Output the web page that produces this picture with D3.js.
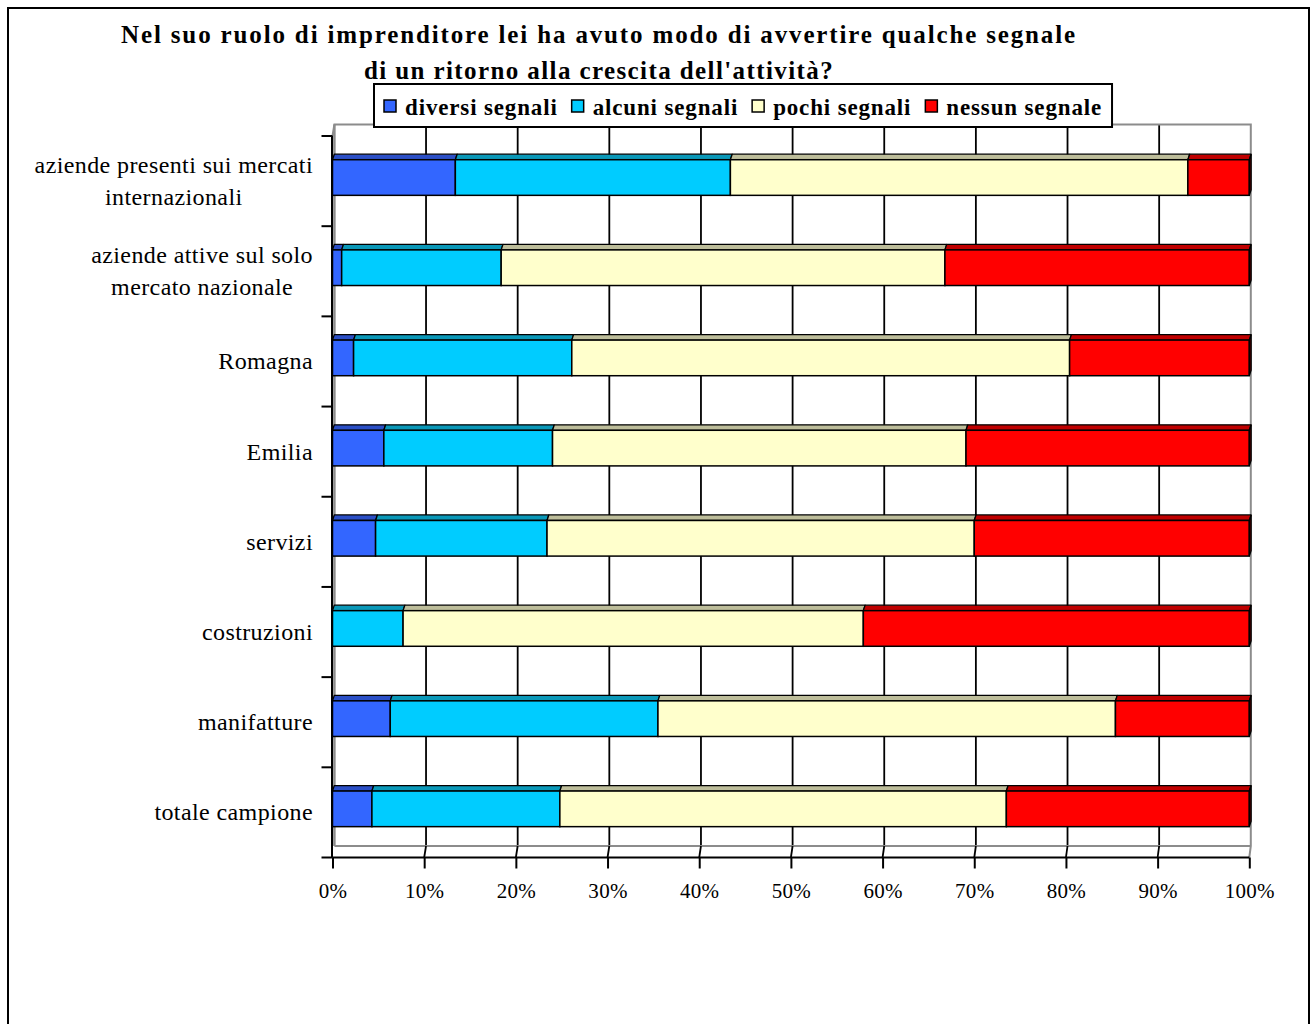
<!DOCTYPE html>
<html><head><meta charset="utf-8">
<script src="https://cdn.jsdelivr.net/npm/d3@7"></script>
<style>body{margin:0;background:#fff} svg{display:block}</style>
</head><body>
<svg id="c" width="1311" height="1024"></svg>
<script>
// ---- data ----
const titleLines = ["Nel suo ruolo di imprenditore lei ha avuto modo di avvertire qualche segnale",
                    "di un ritorno alla crescita dell'attività?"];
const categories = ["aziende presenti sui mercati\ninternazionali",
                    "aziende attive sul solo\nmercato nazionale",
                    "Romagna", "Emilia", "servizi", "costruzioni", "manifatture", "totale campione"];
const seriesNames = ["diversi segnali", "alcuni segnali", "pochi segnali", "nessun segnale"];
const diversi  = [13.4, 1.0, 2.3, 5.6, 4.7, 0.0, 6.3, 4.3];
const alcuni   = [30.0, 17.4, 23.8, 18.4, 18.7, 7.7, 29.2, 20.5];
const pochi    = [49.9, 48.4, 54.3, 45.1, 46.6, 50.2, 49.9, 48.7];
const nessuno  = [6.7, 33.2, 19.6, 30.9, 30.0, 42.1, 14.6, 26.5];
const tickValues = [0, 10, 20, 30, 40, 50, 60, 70, 80, 90, 100];
const tickLabels = ["0%", "10%", "20%", "30%", "40%", "50%", "60%", "70%", "80%", "90%", "100%"];

// ---- styles ----
const colors = ["#3366FF", "#00CCFF", "#FFFFCC", "#FF0000"];
const topColors = ["#2b4fc6", "#0a98b8", "#bdbd9a", "#c00000"];
const serif = "'Liberation Serif','Times New Roman',serif";

const rows = categories.map((c, i) => ({cat: c, s0: diversi[i], s1: alcuni[i], s2: pochi[i], s3: nessuno[i]}));
const stack = d3.stack().keys(["s0", "s1", "s2", "s3"])(rows);

const svg = d3.select("#c");

// geometry
const xFront = d3.scaleLinear().domain([0, 100]).range([332.5, 1249.3]);
const xBack  = d3.scaleLinear().domain([0, 100]).range([334.4, 1250.8]);
const y = d3.scaleBand().domain(categories).range([136, 857.5]).paddingInner(0).paddingOuter(0);
const wallDy = -11.5;
const bw = y.bandwidth();
const barTop = bw * 0.263, barH = bw * 0.395;
const bdx = 1.8, bdy = -5.5;
const yFloorFront = y.range()[1], yFloorBack = y.range()[1] + wallDy, yWallTop = y.range()[0] + wallDy;

// outer border
svg.append("rect").attr("x", 8).attr("y", 8).attr("width", 1301).attr("height", 1030)
  .attr("fill", "#fff").attr("stroke", "#000").attr("stroke-width", 2);

// title
const titleSpacing = [1.85, 1.4];
titleLines.forEach((t, i) => svg.append("text").attr("font-family", serif).attr("font-weight", "bold")
  .attr("font-size", 25).attr("letter-spacing", titleSpacing[i]).attr("text-anchor", "middle")
  .attr("x", 599).attr("y", 43 + i * 36).text(t));

// back wall: gridlines
const grid = svg.append("g");
grid.selectAll("line.g").data(tickValues.slice(1, -1)).join("line")
  .attr("x1", d => xBack(d)).attr("x2", d => xBack(d))
  .attr("y1", yWallTop).attr("y2", yFloorBack)
  .attr("stroke", "#000").attr("stroke-width", 1.8);
// wall outline (gray)
grid.append("path")
  .attr("d", `M${xFront(0)},${y.range()[0]} L${xBack(0)},${yWallTop} L${xBack(100)},${yWallTop} L${xBack(100)},${yFloorBack} L${xFront(100)},${yFloorFront}`)
  .attr("fill", "none").attr("stroke", "#8c8c8c").attr("stroke-width", 2);
grid.append("line").attr("x1", xBack(0)).attr("x2", xBack(0)).attr("y1", yWallTop).attr("y2", yFloorBack)
  .attr("stroke", "#8c8c8c").attr("stroke-width", 2.5);
grid.append("line").attr("x1", xBack(0)).attr("x2", xBack(100)).attr("y1", yFloorBack).attr("y2", yFloorBack)
  .attr("stroke", "#8c8c8c").attr("stroke-width", 2);
// floor slants
grid.selectAll("line.s").data(tickValues.slice(1, -1)).join("line")
  .attr("x1", d => xBack(d)).attr("x2", d => xFront(d))
  .attr("y1", yFloorBack).attr("y2", yFloorFront)
  .attr("stroke", "#000").attr("stroke-width", 1.8);

// x axis (front)
const xAxis = svg.append("g").attr("transform", `translate(0,${yFloorFront})`)
  .call(d3.axisBottom(xFront).tickValues(tickValues).tickFormat((d, i) => tickLabels[i]).tickSize(11).tickPadding(17));
xAxis.select(".domain").attr("stroke", "#000").attr("stroke-width", 2).attr("d", `M${xFront(0)},0H${xFront(100)}`);
xAxis.selectAll(".tick line").attr("stroke", "#000").attr("stroke-width", 2);
xAxis.selectAll(".tick text").attr("font-family", serif).attr("font-size", 21).attr("fill", "#000")
  .attr("letter-spacing", 0.3).attr("dy", "0.6em");

// y axis
const yAxisG = svg.append("g");
yAxisG.append("line").attr("x1", xFront(0) - 0.5).attr("x2", xFront(0) - 0.5)
  .attr("y1", y.range()[0]).attr("y2", yFloorFront).attr("stroke", "#000").attr("stroke-width", 2);
const bounds = categories.map(c => y(c)).concat([y.range()[1]]);
yAxisG.selectAll("line.t").data(bounds).join("line")
  .attr("x1", xFront(0) - 11).attr("x2", xFront(0)).attr("y1", d => d).attr("y2", d => d)
  .attr("stroke", "#000").attr("stroke-width", 2);

// category labels
categories.forEach(c => {
  const lines = c.split("\n");
  const cy = y(c) + bw / 2;
  const t = svg.append("text").attr("font-family", serif).attr("font-size", 24)
    .attr("letter-spacing", 0.4).attr("text-anchor", "middle").attr("fill", "#000");
  const spans = lines.map((l, i) => t.append("tspan").attr("y", cy + (i - (lines.length - 1) / 2) * 32 + 8).text(l));
  const maxW = d3.max(spans, s => s.node().getComputedTextLength());
  spans.forEach(s => s.attr("x", 313 - maxW / 2));
});

// bars
const bars = svg.append("g");
stack.forEach((layer, si) => {
  layer.forEach(d => {
    if (d[1] - d[0] <= 0) return;
    const c = d.data.cat;
    const x0 = xFront(d[0]), x1 = xFront(d[1]);
    const yt = y(c) + barTop;
    bars.append("path")
      .attr("d", `M${x0},${yt} L${x0 + bdx},${yt + bdy} L${x1 + bdx},${yt + bdy} L${x1},${yt} Z`)
      .attr("fill", topColors[si]).attr("stroke", "#000").attr("stroke-width", 1.3).attr("stroke-linejoin", "round");
    bars.append("rect").attr("x", x0).attr("y", yt).attr("width", x1 - x0).attr("height", barH)
      .attr("fill", colors[si]).attr("stroke", "#000").attr("stroke-width", 1.5);
    if (si === stack.length - 1) {
      bars.append("path")
        .attr("d", `M${x1},${yt} L${x1 + bdx},${yt + bdy} L${x1 + bdx},${yt + bdy + barH} L${x1},${yt + barH} Z`)
        .attr("fill", "#600000").attr("stroke", "#000").attr("stroke-width", 1.3);
    }
  });
});

// legend
const leg = svg.append("g");
const legBox = leg.append("rect").attr("y", 84).attr("height", 43)
  .attr("fill", "#fff").attr("stroke", "#000").attr("stroke-width", 2);
let lx = 384;
seriesNames.forEach((n, i) => {
  leg.append("rect").attr("x", lx).attr("y", 100).attr("width", 12).attr("height", 12)
    .attr("fill", colors[i]).attr("stroke", "#000").attr("stroke-width", 1.5);
  const t = leg.append("text").attr("x", lx + 21).attr("y", 115).attr("font-family", serif)
    .attr("font-weight", "bold").attr("font-size", 23).attr("letter-spacing", 0.85).attr("fill", "#000").text(n);
  lx = lx + 21 + t.node().getComputedTextLength() + 14;
});
legBox.attr("x", 374).attr("width", lx - 14 + 10 - 374);
</script>
</body></html>
